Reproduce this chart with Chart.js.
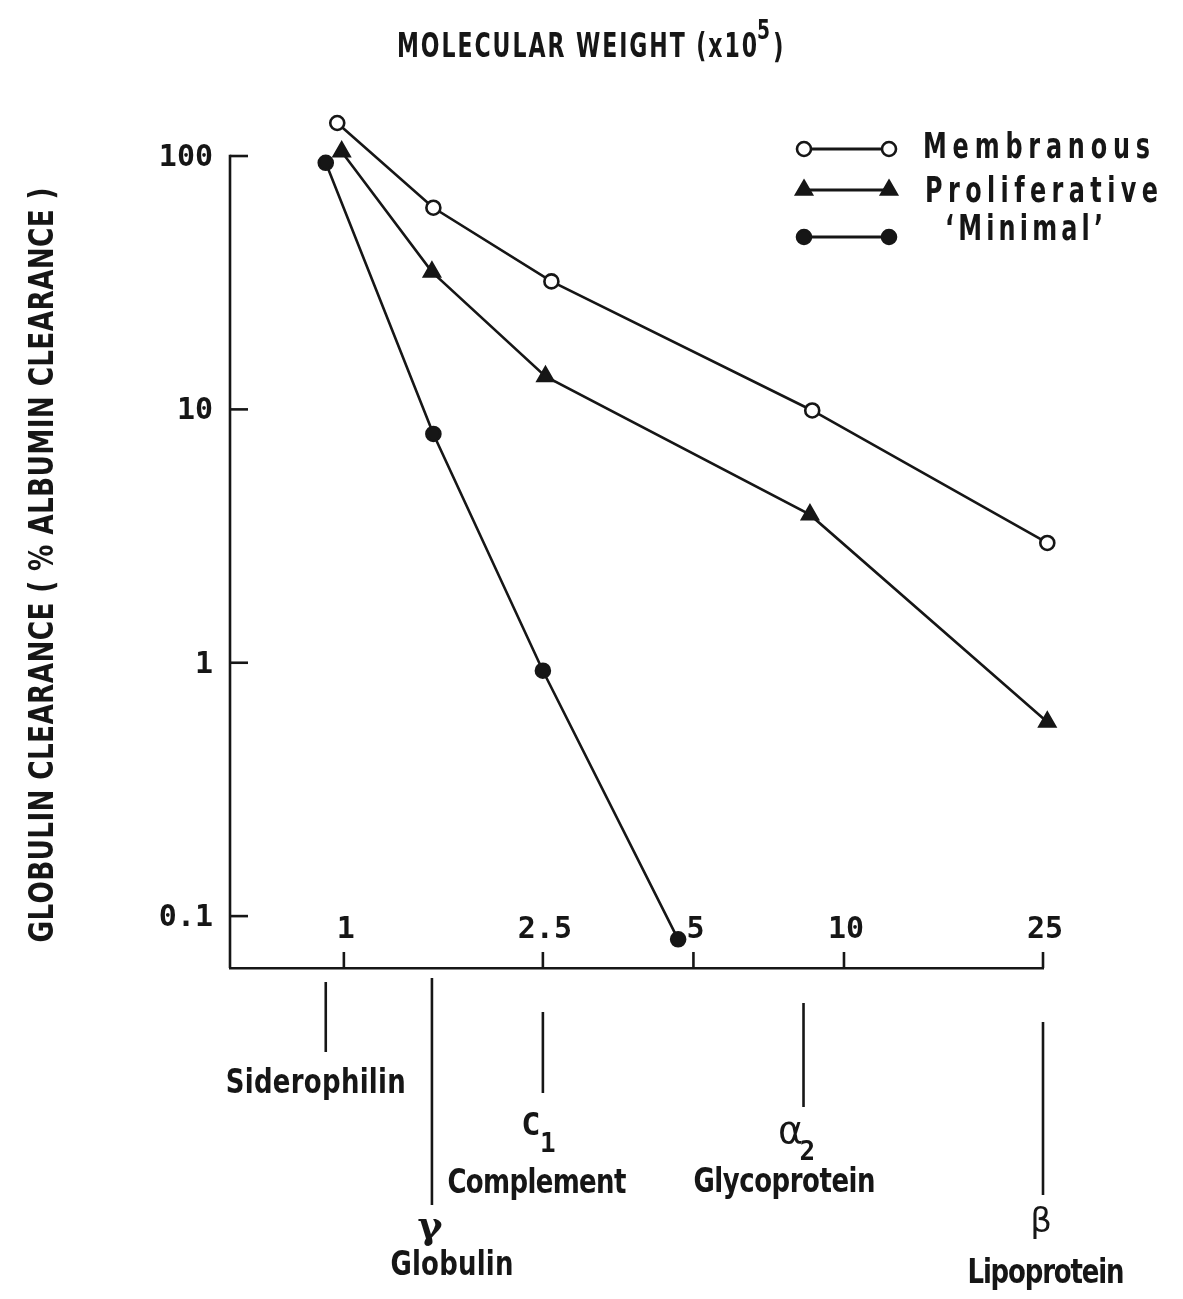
<!DOCTYPE html>
<html>
<head>
<meta charset="utf-8">
<title>Globulin clearance vs molecular weight</title>
<script src="https://cdn.jsdelivr.net/npm/chart.js@4.4.1/dist/chart.umd.min.js"></script>
<style>
  html, body { margin: 0; padding: 0; background: #fff; }
  #wrap { width: 1183px; height: 1299px; }
</style>
</head>
<body>
<div id="wrap"><canvas id="clearanceChart" width="1183" height="1299"></canvas></div>
<script>
  // --- data (molecular weight x10^5, % albumin clearance) ---
  const seriesNames = ['Membranous', 'Proliferative', '\u2018Minimal\u2019'];
  const membranousX = [0.97, 1.51, 2.60, 8.64, 25.5];
  const membranousY = [135, 62.5, 32, 9.9, 2.97];
  const proliferativeX = [0.99, 1.50, 2.53, 8.55, 25.5];
  const proliferativeY = [104, 34.9, 13.5, 3.84, 0.584];
  const minimalX = [0.92, 1.51, 2.50, 4.66];
  const minimalY = [94, 8.0, 0.93, 0.081];

  const xTickValues = [1, 2.5, 5, 10, 25];
  const xTickLabels = ['1', '2.5', '5', '10', '25'];
  const yTickValues = [100, 10, 1, 0.1];
  const yTickLabels = ['100', '10', '1', '0.1'];

  // proteins marked under the weight axis
  const proteinNames = ['Siderophilin', 'Globulin', 'Complement', 'Glycoprotein', 'Lipoprotein'];
  const proteinSymbols = ['', '\u03b3', 'C', '\u03b1', '\u03b2'];
  const proteinSubscripts = ['', '', '1', '2', ''];
  const proteinWeights = [0.92, 1.5, 2.5, 8.3, 25];

  // --- layout (pixels, measured from the bottom of the plot) ---
  const INK = '#161616';
  const SANS = "'DejaVu Sans Condensed', 'Liberation Sans Narrow', sans-serif";
  const MONO = "'DejaVu Sans Mono', 'Liberation Mono', monospace";
  const noteLineTop = [14, 10, 44, 35, 54];
  const noteLineBottom = [84, 237, 125, 139, 227];
  const noteNameBase = [125, 307, 225, 224, 315];
  const noteNameDx = [-10, 20, -6, -19, 3];
  const noteNameWidth = [180, 123, 179, 182, 157];
  const noteSymbolBase = [0, 270, 167, 175, 264];
  const noteSymbolDx = [0, -2, -12, -13, -2];

  // draws text char by char, squeezed by xScale and spread to fill width
  function spacedText(ctx, text, x, y, width, align, xScale) {
    const k = xScale || 1;
    const chars = Array.from(text);
    const widths = chars.map(c => ctx.measureText(c).width * k);
    const natural = widths.reduce((a, b) => a + b, 0);
    const total = width || natural;
    const gap = chars.length > 1 ? (total - natural) / (chars.length - 1) : 0;
    let cx = align === 'center' ? x - total / 2 : align === 'right' ? x - total : x;
    ctx.textAlign = 'left';
    chars.forEach((c, i) => {
      ctx.save();
      ctx.translate(cx, y);
      ctx.scale(k, 1);
      ctx.fillText(c, 0, 0);
      ctx.restore();
      cx += widths[i] + gap;
    });
  }

  function segment(ctx, x1, y1, x2, y2) {
    ctx.beginPath();
    ctx.moveTo(x1, y1);
    ctx.lineTo(x2, y2);
    ctx.stroke();
  }

  const paperDecor = {
    id: 'paperDecor',
    afterDraw(chart) {
      const { ctx, chartArea: area, scales: { x, y } } = chart;
      ctx.save();
      ctx.fillStyle = INK;
      ctx.strokeStyle = INK;
      ctx.lineWidth = 2.6;
      ctx.lineCap = 'butt';
      ctx.textBaseline = 'alphabetic';

      // y axis line starts at the 100 tick
      const yTop = y.getPixelForValue(100);
      segment(ctx, area.left, yTop - 1.3, area.left, area.bottom);

      // y ticks point into the plot, labels sit left of the axis
      ctx.font = `bold 30px ${MONO}`;
      yTickValues.forEach((v, i) => {
        const py = y.getPixelForValue(v);
        segment(ctx, area.left, py, area.left + 18, py);
        ctx.textBaseline = 'middle';
        ctx.textAlign = 'right';
        ctx.fillText(yTickLabels[i], area.left - 17, py + 2);
      });

      // x ticks point up, labels above them
      ctx.textBaseline = 'alphabetic';
      ctx.font = `bold 30px ${MONO}`;
      xTickValues.forEach((v, i) => {
        const px = x.getPixelForValue(v);
        segment(ctx, px, area.bottom, px, area.bottom - 16);
        ctx.textAlign = 'center';
        ctx.fillText(xTickLabels[i], px + 2, area.bottom - 30);
      });

      // top title
      ctx.font = `bold 34px ${SANS}`;
      spacedText(ctx, 'MOLECULAR WEIGHT (x10', 397, 57, 360, 'left', 0.72);
      ctx.font = `bold 26px ${SANS}`;
      spacedText(ctx, '5', 757, 39, 0, 'left', 0.8);
      ctx.font = `bold 34px ${SANS}`;
      spacedText(ctx, ')', 773, 58, 0, 'left', 0.75);

      // y axis title
      ctx.save();
      ctx.translate(53, 565);
      ctx.rotate(-Math.PI / 2);
      ctx.font = `bold 34px ${SANS}`;
      spacedText(ctx, 'GLOBULIN CLEARANCE ( % ALBUMIN CLEARANCE )', 0, 0, 755, 'center', 0.86);
      ctx.restore();

      // legend: marker - line - marker, then label
      const legendRowY = [149, 190, 237];
      const legendTextY = [158, 202, 240];
      const legendTextX = [923, 925, 945];
      const legendTextW = [227, 233, 158];
      chart.data.datasets.forEach((ds, i) => {
        const ly = legendRowY[i];
        const x1 = 804, x2 = 889;
        ctx.lineWidth = 2.8;
        segment(ctx, x1, ly, x2, ly);
        [x1, x2].forEach(mx => {
          ctx.fillStyle = ds.pointBackgroundColor;
          ctx.strokeStyle = INK;
          ctx.lineWidth = ds.pointBorderWidth;
          Chart.helpers.drawPoint(ctx, {
            pointStyle: ds.pointStyle, radius: ds.pointRadius,
            borderWidth: ds.pointBorderWidth, rotation: 0
          }, mx, ly);
        });
        ctx.fillStyle = INK;
        ctx.font = `bold 35px ${SANS}`;
        spacedText(ctx, ds.label, legendTextX[i], legendTextY[i], legendTextW[i], 'left', 0.76);
      });

      // protein markers under the axis
      ctx.lineWidth = 2.6;
      proteinNames.forEach((name, i) => {
        const px = x.getPixelForValue(proteinWeights[i]);
        segment(ctx, px, area.bottom + noteLineTop[i], px, area.bottom + noteLineBottom[i]);
        ctx.font = `bold 34px ${SANS}`;
        spacedText(ctx, name, px + noteNameDx[i], area.bottom + noteNameBase[i], noteNameWidth[i], 'center', 0.85);
        const sym = proteinSymbols[i];
        if (!sym) return;
        const sx = px + noteSymbolDx[i];
        const sy = area.bottom + noteSymbolBase[i];
        ctx.textAlign = 'center';
        if (sym === 'C') {
          ctx.font = `bold 32px ${MONO}`;
        } else if (sym === '\u03b1') {
          ctx.font = `38px 'DejaVu Sans', sans-serif`;
        } else if (sym === '\u03b3') {
          ctx.font = `bold 38px 'DejaVu Serif', serif`;
        } else {
          ctx.font = `34px 'DejaVu Sans', sans-serif`;
        }
        ctx.fillText(sym, sx, sy);
        const sub = proteinSubscripts[i];
        if (sub) {
          ctx.font = `bold 26px ${MONO}`;
          ctx.textAlign = 'left';
          ctx.fillText(sub, sx + 9, sy + 17);
        }
      });
      ctx.restore();
    }
  };

  const toPoints = (xs, ys) => xs.map((v, i) => ({ x: v, y: ys[i] }));

  const lineBase = {
    borderColor: INK,
    borderWidth: 2.6,
    pointBorderColor: INK,
    pointBorderWidth: 2.6,
    clip: false,
    tension: 0
  };

  new Chart(document.getElementById('clearanceChart'), {
    type: 'line',
    data: {
      datasets: [
        Object.assign({}, lineBase, {
          label: seriesNames[0], data: toPoints(membranousX, membranousY),
          pointStyle: 'circle', pointRadius: 7, pointBackgroundColor: '#ffffff'
        }),
        Object.assign({}, lineBase, {
          label: seriesNames[1], data: toPoints(proliferativeX, proliferativeY),
          pointStyle: 'triangle', pointRadius: 9, pointBackgroundColor: INK
        }),
        Object.assign({}, lineBase, {
          label: seriesNames[2], data: toPoints(minimalX, minimalY),
          pointStyle: 'circle', pointRadius: 7, pointBackgroundColor: INK
        })
      ]
    },
    options: {
      responsive: false,
      animation: false,
      events: [],
      layout: { padding: { left: 230, right: 140, top: 104.3, bottom: 331 } },
      plugins: { legend: { display: false }, tooltip: { enabled: false } },
      scales: {
        x: {
          type: 'logarithmic',
          min: 0.592,
          max: 25,
          grid: { display: false, drawTicks: false },
          ticks: { display: false },
          border: { display: true, color: INK, width: 2.6 },
          afterFit: s => { s.height = 0; }
        },
        y: {
          type: 'logarithmic',
          min: 0.0624,
          max: 160,
          grid: { display: false, drawTicks: false },
          ticks: { display: false },
          border: { display: false },
          afterFit: s => { s.width = 0; }
        }
      }
    },
    plugins: [paperDecor]
  });
</script>
</body>
</html>
